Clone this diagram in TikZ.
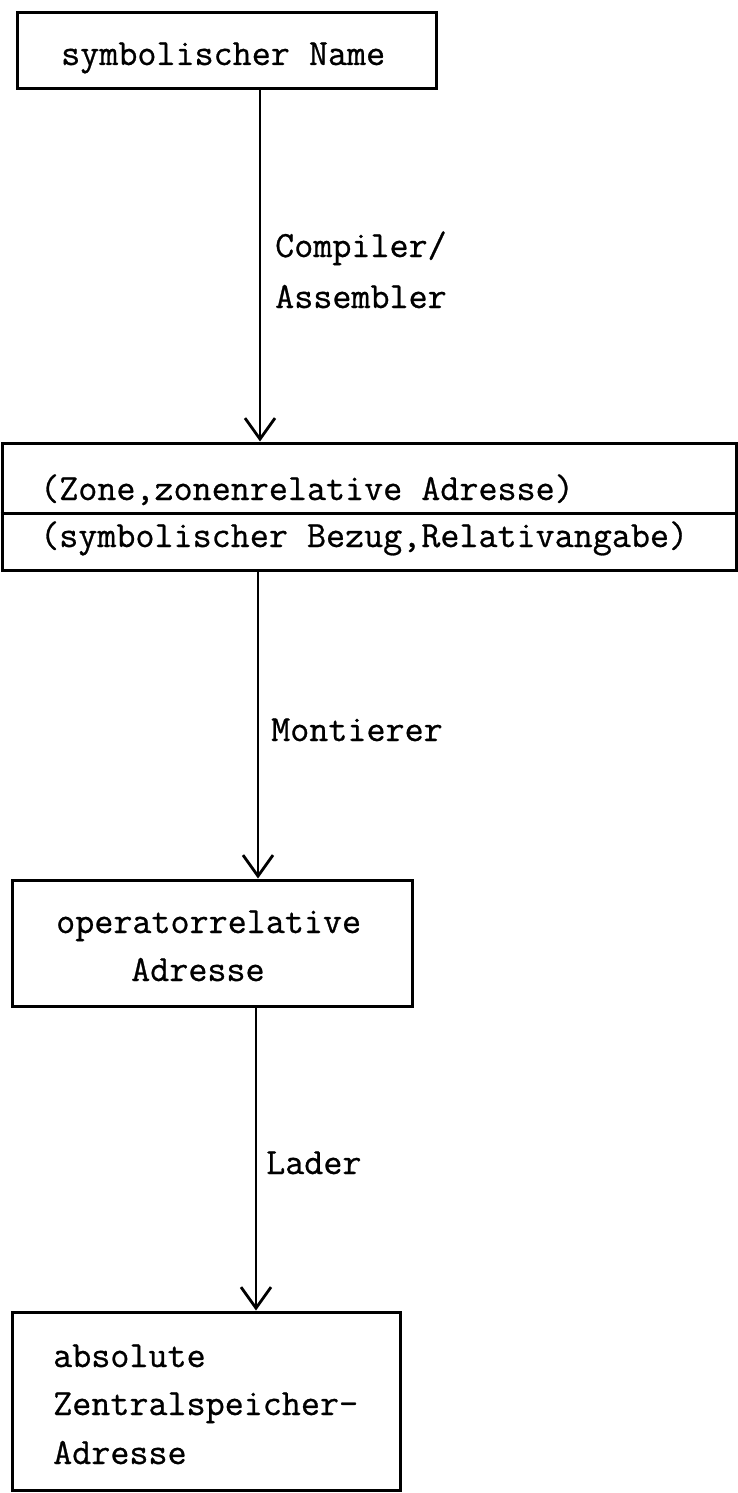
\documentclass[tikz,border=0pt]{standalone}
\usepackage{fontspec}
\usetikzlibrary{arrows.meta}
\newfontfamily\typefont{Latin Modern Mono}[FakeBold=0.7]
\newcommand\typewriter{\typefont\fontsize{37}{48}\selectfont}
\tikzset{
  box/.style={draw, rectangle, line width=3pt, inner sep=0pt},
  txt/.style={font=\typewriter, inner sep=0pt, anchor=base west},
  arr/.style={line width=2.8pt, -{Straight Barb[length=21pt,width=30pt,line width=2.8pt]}},
}
\begin{document}
\begin{tikzpicture}[x=1pt, y=-1pt]
  \useasboundingbox (0,0) rectangle (738,1493);

  % boxes
  \node[box, minimum width=419pt, minimum height=76pt]  (b1) at (226.5,51)  {};
  \node[box, minimum width=734pt, minimum height=127pt] (b2) at (369,506.5) {};
  \node[box, minimum width=400pt, minimum height=126pt] (b3) at (212,943)   {};
  \node[box, minimum width=388pt, minimum height=178pt] (b4) at (206,1401)  {};

  % divider of the two-part box
  \coordinate (div) at (0,513);
  \draw[line width=3pt] (b2.west |- div) -- (b2.east |- div);

  % box texts
  \node[txt] (n1)  at (61,65)    {symbolischer Name};
  \node[txt] (n2a) at (40,500)   {(Zone,zonenrelative Adresse)};
  \node[txt] (n2b) at (40,547)   {(symbolischer Bezug,Relativangabe)};
  \node[txt] (n3a) at (56,933)   {operatorrelative};
  \node[txt] (n3b) at (131,981)  {Adresse};
  \node[txt] (n4a) at (53,1367)  {absolute};
  \node[txt] (n4b) at (53,1415)  {Zentralspeicher-};
  \node[txt] (n4c) at (53,1464)  {Adresse};

  % connectors
  \coordinate (s1) at (260,0);
  \coordinate (s2) at (258,0);
  \coordinate (s3) at (256,0);
  \draw[arr] (b1.south -| s1) -- (b2.north -| s1);
  \draw[arr] (b2.south -| s2) -- (b3.north -| s2);
  \draw[arr] (b3.south -| s3) -- (b4.north -| s3);

  % connector labels
  \node[txt] (l1a) at (275,257)  {Compiler/};
  \node[txt] (l1b) at (275,308)  {Assembler};
  \node[txt] (l2)  at (271,741)  {Montierer};
  \node[txt] (l3)  at (266,1174) {Lader};
\end{tikzpicture}
\end{document}
